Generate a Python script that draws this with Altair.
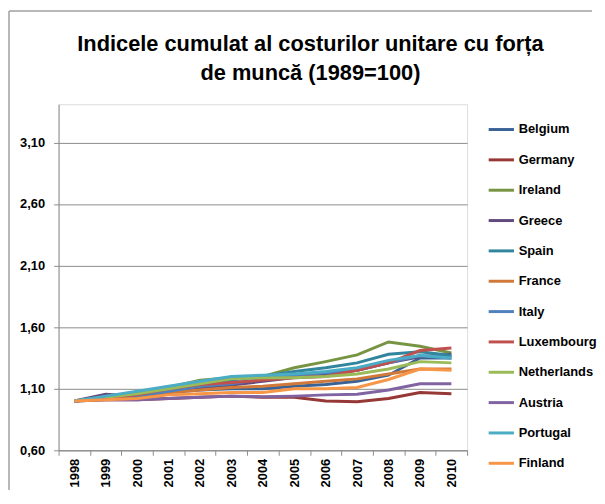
import altair as alt
import pandas as pd

years = [str(y) for y in range(1998, 2011)]
countries = ["Belgium", "Germany", "Ireland", "Greece", "Spain", "France",
             "Italy", "Luxembourg", "Netherlands", "Austria", "Portugal", "Finland"]
colors = ["#3A6395", "#963836", "#779443", "#614A7D", "#31859C", "#D0793A",
          "#4F81BD", "#C0504D", "#9BBB59", "#8064A2", "#4BACC6", "#F79646"]

belgium     = [1.00, 1.02, 1.03, 1.07, 1.09, 1.10, 1.10, 1.12, 1.135, 1.16, 1.21, 1.35, 1.35]
germany     = [1.00, 1.01, 1.01, 1.02, 1.03, 1.04, 1.03, 1.03, 1.00, 0.995, 1.02, 1.07, 1.06]
ireland     = [1.00, 1.03, 1.06, 1.11, 1.17, 1.19, 1.20, 1.27, 1.32, 1.375, 1.48, 1.445, 1.39]
greece      = [1.00, 1.055, 1.04, 1.07, 1.10, 1.13, 1.16, 1.19, 1.22, 1.25, 1.31, 1.36, 1.38]
spain       = [1.00, 1.03, 1.06, 1.09, 1.13, 1.17, 1.20, 1.24, 1.27, 1.31, 1.38, 1.40, 1.37]
france      = [1.00, 1.02, 1.04, 1.07, 1.09, 1.11, 1.12, 1.14, 1.16, 1.18, 1.22, 1.26, 1.26]
italy       = [1.00, 1.02, 1.04, 1.08, 1.12, 1.14, 1.18, 1.21, 1.23, 1.25, 1.31, 1.37, 1.35]
luxembourg  = [1.00, 1.02, 1.05, 1.10, 1.135, 1.15, 1.17, 1.19, 1.20, 1.25, 1.31, 1.41, 1.43]
netherlands = [1.00, 1.03, 1.06, 1.10, 1.14, 1.18, 1.19, 1.19, 1.20, 1.22, 1.26, 1.32, 1.31]
austria     = [1.00, 1.01, 1.01, 1.02, 1.03, 1.04, 1.035, 1.04, 1.05, 1.055, 1.09, 1.14, 1.14]
portugal    = [1.00, 1.04, 1.08, 1.12, 1.16, 1.20, 1.21, 1.22, 1.24, 1.27, 1.33, 1.37, 1.35]
finland     = [1.00, 1.01, 1.02, 1.05, 1.06, 1.07, 1.07, 1.10, 1.10, 1.11, 1.175, 1.26, 1.25]

series = [belgium, germany, ireland, greece, spain, france,
          italy, luxembourg, netherlands, austria, portugal, finland]

y_ticks = [0.6, 1.1, 1.6, 2.1, 2.6, 3.1]
title_lines = ["Indicele cumulat al costurilor unitare cu forța", "de muncă (1989=100)"]

rows = []
for c, vals in zip(countries, series):
    for yr, v in zip(years, vals):
        rows.append({"year": yr, "country": c, "value": v})
df = pd.DataFrame(rows)

FONT = "Liberation Sans"
GRAY = "#8C8C8C"

lines = alt.Chart(df).mark_line(strokeWidth=3).encode(
    x=alt.X("year:O", scale=alt.Scale(type="band", paddingInner=0, paddingOuter=0),
            axis=alt.Axis(title=None, labelAngle=-90, labelAlign="right", labelBaseline="middle",
                          labelFont=FONT, labelFontSize=13, labelFontWeight="bold", labelColor="#000",
                          tickBand="extent", tickSize=5, tickColor=GRAY, domainColor=GRAY,
                          labelPadding=3, grid=False)),
    y=alt.Y("value:Q", scale=alt.Scale(domain=[0.6, 3.41], nice=False, zero=False),
            axis=alt.Axis(title=None, values=y_ticks,
                          labelExpr="replace(format(datum.value, '.2f'), '.', ',')",
                          labelFont=FONT, labelFontSize=13, labelFontWeight="bold", labelColor="#000",
                          tickSize=5, tickColor=GRAY, domainColor=GRAY, labelPadding=9,
                          grid=True, gridColor=GRAY, gridWidth=1)),
    color=alt.Color("country:N", sort=countries,
                    scale=alt.Scale(domain=countries, range=colors),
                    legend=alt.Legend(title=None, orient="none", legendX=432, legendY=11,
                                      symbolType="stroke", symbolSize=650, symbolStrokeWidth=3,
                                      labelFont=FONT, labelFontSize=13, labelFontWeight="bold",
                                      labelColor="#000", rowPadding=8.6, labelOffset=3)),
    order=alt.Order("country:N")
)

frame_top = alt.Chart(pd.DataFrame({"a": [0]})).mark_rule(
    stroke="#A0A0A0", strokeWidth=1.5
).encode(x=alt.value(-50), x2=alt.value(538), y=alt.value(-94))
frame_left = alt.Chart(pd.DataFrame({"a": [0]})).mark_rule(
    stroke="#A0A0A0", strokeWidth=1.5
).encode(x=alt.value(-50), y=alt.value(-94), y2=alt.value(389))

title_df = pd.DataFrame({"t": title_lines, "i": [0, 1]})
title = alt.Chart(title_df).mark_text(
    font=FONT, fontSize=22, fontWeight="bold", color="#000", align="center", baseline="alphabetic"
).encode(
    text="t:N",
    x=alt.value(254),
    y=alt.Y("i:O", scale=alt.Scale(type="point", range=[-54, -24], padding=0), axis=None),
)

chart = alt.layer(frame_top, frame_left, lines, title).resolve_scale(y="independent").properties(
    width=412, height=349,
    padding=0,
).configure_view(stroke=None).configure(background="white")

chart.save("out.html", embed_options={"renderer": "svg", "actions": False})
